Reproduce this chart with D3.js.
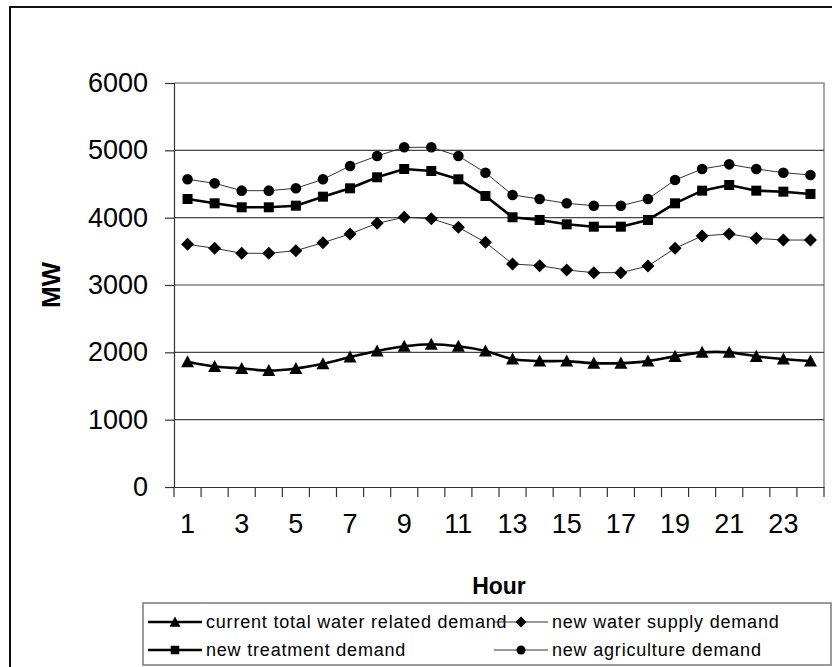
<!DOCTYPE html>
<html>
<head>
<meta charset="utf-8">
<script src="https://cdn.jsdelivr.net/npm/d3@7"></script>
<style>
  html, body { margin: 0; padding: 0; background: #fff; }
  svg { display: block; font-family: "Liberation Sans", Arial, sans-serif; }
</style>
</head>
<body>
<svg id="chart" width="832" height="667"></svg>
<script>
// Hourly electricity demand (MW) tied to water use
const hours = d3.range(1, 25);
const hourTickLabels = ["1","3","5","7","9","11","13","15","17","19","21","23"];
const yTickValues = [0, 1000, 2000, 3000, 4000, 5000, 6000];

const currentTotal = [1860,1790,1760,1730,1760,1830,1930,2020,2090,2120,2090,2020,
                      1900,1870,1870,1840,1840,1870,1940,2000,2000,1940,1900,1870];
const newWaterSupply = [3605,3545,3471,3471,3510,3629,3758,3916,4006,3985,3857,3634,
                        3312,3287,3223,3183,3183,3282,3545,3728,3758,3693,3668,3668];
const newTreatment = [4277,4213,4154,4154,4178,4312,4436,4600,4723,4693,4570,4322,
                      4006,3966,3901,3866,3866,3966,4213,4401,4485,4401,4386,4352];
const newAgriculture = [4570,4510,4401,4401,4436,4570,4767,4916,5045,5045,4916,4668,
                        4337,4277,4213,4178,4178,4277,4560,4723,4792,4723,4668,4634];

const seriesNames = ["current total water related demand", "new water supply demand",
                     "new treatment demand", "new agriculture demand"];

const series = [
  { name: seriesNames[0], values: currentTotal,   marker: "triangle", width: 2.6, color: "#000", smooth: true },
  { name: seriesNames[1], values: newWaterSupply, marker: "diamond",  width: 1,   color: "#333", smooth: false },
  { name: seriesNames[2], values: newTreatment,   marker: "square",   width: 2.6, color: "#000", smooth: false },
  { name: seriesNames[3], values: newAgriculture, marker: "circle",   width: 1,   color: "#333", smooth: false }
];

const svg = d3.select("#chart");
const plot = { left: 174, right: 824, top: 83, bottom: 487 };

// chart frame
svg.append("path")
  .attr("d", `M10,668 L10,7 L833,7`)
  .attr("fill", "none").attr("stroke", "#111").attr("stroke-width", 2);

const x = d3.scaleBand().domain(hours).range([plot.left, plot.right]).padding(0);
const y = d3.scaleLinear().domain([0, 6000]).range([plot.bottom, plot.top]);
const cx = h => x(h) + x.bandwidth() / 2;

// plot-area border (top & right)
svg.append("path")
  .attr("d", `M${plot.left},${plot.top} L${plot.right},${plot.top} L${plot.right},${plot.bottom}`)
  .attr("fill", "none").attr("stroke", "#8a8a8a").attr("stroke-width", 1.5);

// horizontal gridlines
svg.append("g").selectAll("line")
  .data(yTickValues.filter(v => v > 0 && v < 6000))
  .join("line")
  .attr("x1", plot.left).attr("x2", plot.right)
  .attr("y1", d => y(d)).attr("y2", d => y(d))
  .attr("stroke", "#444").attr("stroke-width", 1.2);

// y axis
const yAxis = svg.append("g")
  .attr("transform", `translate(${plot.left},0)`)
  .call(d3.axisLeft(y).tickValues(yTickValues).tickSize(9).tickPadding(17).tickFormat(d3.format("d")));
yAxis.select(".domain").attr("stroke", "#333").attr("stroke-width", 1.2);
yAxis.selectAll(".tick line").attr("stroke", "#333").attr("stroke-width", 1.2);
yAxis.selectAll("text").attr("font-size", 27).attr("fill", "#000")
  .attr("font-family", "'Liberation Sans', Arial, sans-serif");

// x axis: labels on odd hours, tick marks on category boundaries
const xAxis = svg.append("g")
  .attr("transform", `translate(0,${plot.bottom})`)
  .call(d3.axisBottom(x).tickSize(0).tickPadding(27)
    .tickFormat(d => hourTickLabels.includes(String(d)) ? String(d) : ""));
xAxis.select(".domain").attr("stroke", "#333").attr("stroke-width", 1.2);
xAxis.selectAll("text").attr("font-size", 27).attr("fill", "#000")
  .attr("font-family", "'Liberation Sans', Arial, sans-serif");
svg.append("g").selectAll("line")
  .data(hours.map(h => x(h)).concat([plot.right]))
  .join("line")
  .attr("x1", d => d).attr("x2", d => d)
  .attr("y1", plot.bottom).attr("y2", plot.bottom + 10)
  .attr("stroke", "#333").attr("stroke-width", 1.2);

// axis titles
svg.append("text")
  .attr("x", (plot.left + plot.right) / 2).attr("y", 594)
  .attr("text-anchor", "middle").attr("font-weight", "bold").attr("font-size", 23)
  .text("Hour");
svg.append("text")
  .attr("transform", `translate(60,${(plot.top + plot.bottom) / 2}) rotate(-90)`)
  .attr("text-anchor", "middle").attr("font-weight", "bold").attr("font-size", 26)
  .text("MW");

// marker shapes
function drawMarker(g, type, px, py, scale = 1) {
  if (type === "triangle") {
    const s = 6.5 * scale;
    g.append("path").attr("d", `M${px},${py - s} L${px + s},${py + s * 0.85} L${px - s},${py + s * 0.85} Z`).attr("fill", "#000");
  } else if (type === "diamond") {
    const s = 6.5 * scale;
    g.append("path").attr("d", `M${px},${py - s} L${px + s},${py} L${px},${py + s} L${px - s},${py} Z`).attr("fill", "#000");
  } else if (type === "square") {
    const s = 5 * scale;
    g.append("rect").attr("x", px - s).attr("y", py - s).attr("width", 2 * s).attr("height", 2 * s).attr("fill", "#000");
  } else {
    g.append("circle").attr("cx", px).attr("cy", py).attr("r", 5.3 * scale).attr("fill", "#000");
  }
}

// series lines and markers
series.forEach(s => {
  const line = d3.line()
    .x((d, i) => cx(hours[i]))
    .y(d => y(d))
    .curve(s.smooth ? d3.curveCatmullRom.alpha(0.5) : d3.curveLinear);
  svg.append("path").datum(s.values)
    .attr("d", line).attr("fill", "none")
    .attr("stroke", s.color).attr("stroke-width", s.width);
  const g = svg.append("g");
  s.values.forEach((v, i) => drawMarker(g, s.marker, cx(hours[i]), y(v)));
});

// legend
const legend = svg.append("g");
legend.append("rect")
  .attr("x", 143).attr("y", 603).attr("width", 688).attr("height", 62)
  .attr("fill", "#fff").attr("stroke", "#7a7a7a").attr("stroke-width", 1.5);
const legendPos = [
  { x: 148, y: 622 }, { x: 494, y: 622 },
  { x: 148, y: 650 }, { x: 494, y: 650 }
];
series.forEach((s, i) => {
  const p = legendPos[i];
  const item = legend.append("g");
  item.append("text")
    .attr("x", p.x + 58).attr("y", p.y).attr("dy", "0.35em")
    .attr("font-size", 18).attr("letter-spacing", 0.8)
    .text(s.name);
  item.append("line")
    .attr("x1", p.x).attr("x2", p.x + 54).attr("y1", p.y).attr("y2", p.y)
    .attr("stroke", s.color).attr("stroke-width", s.width);
  drawMarker(item, s.marker, p.x + 27, p.y, 0.85);
});
</script>
</body>
</html>
